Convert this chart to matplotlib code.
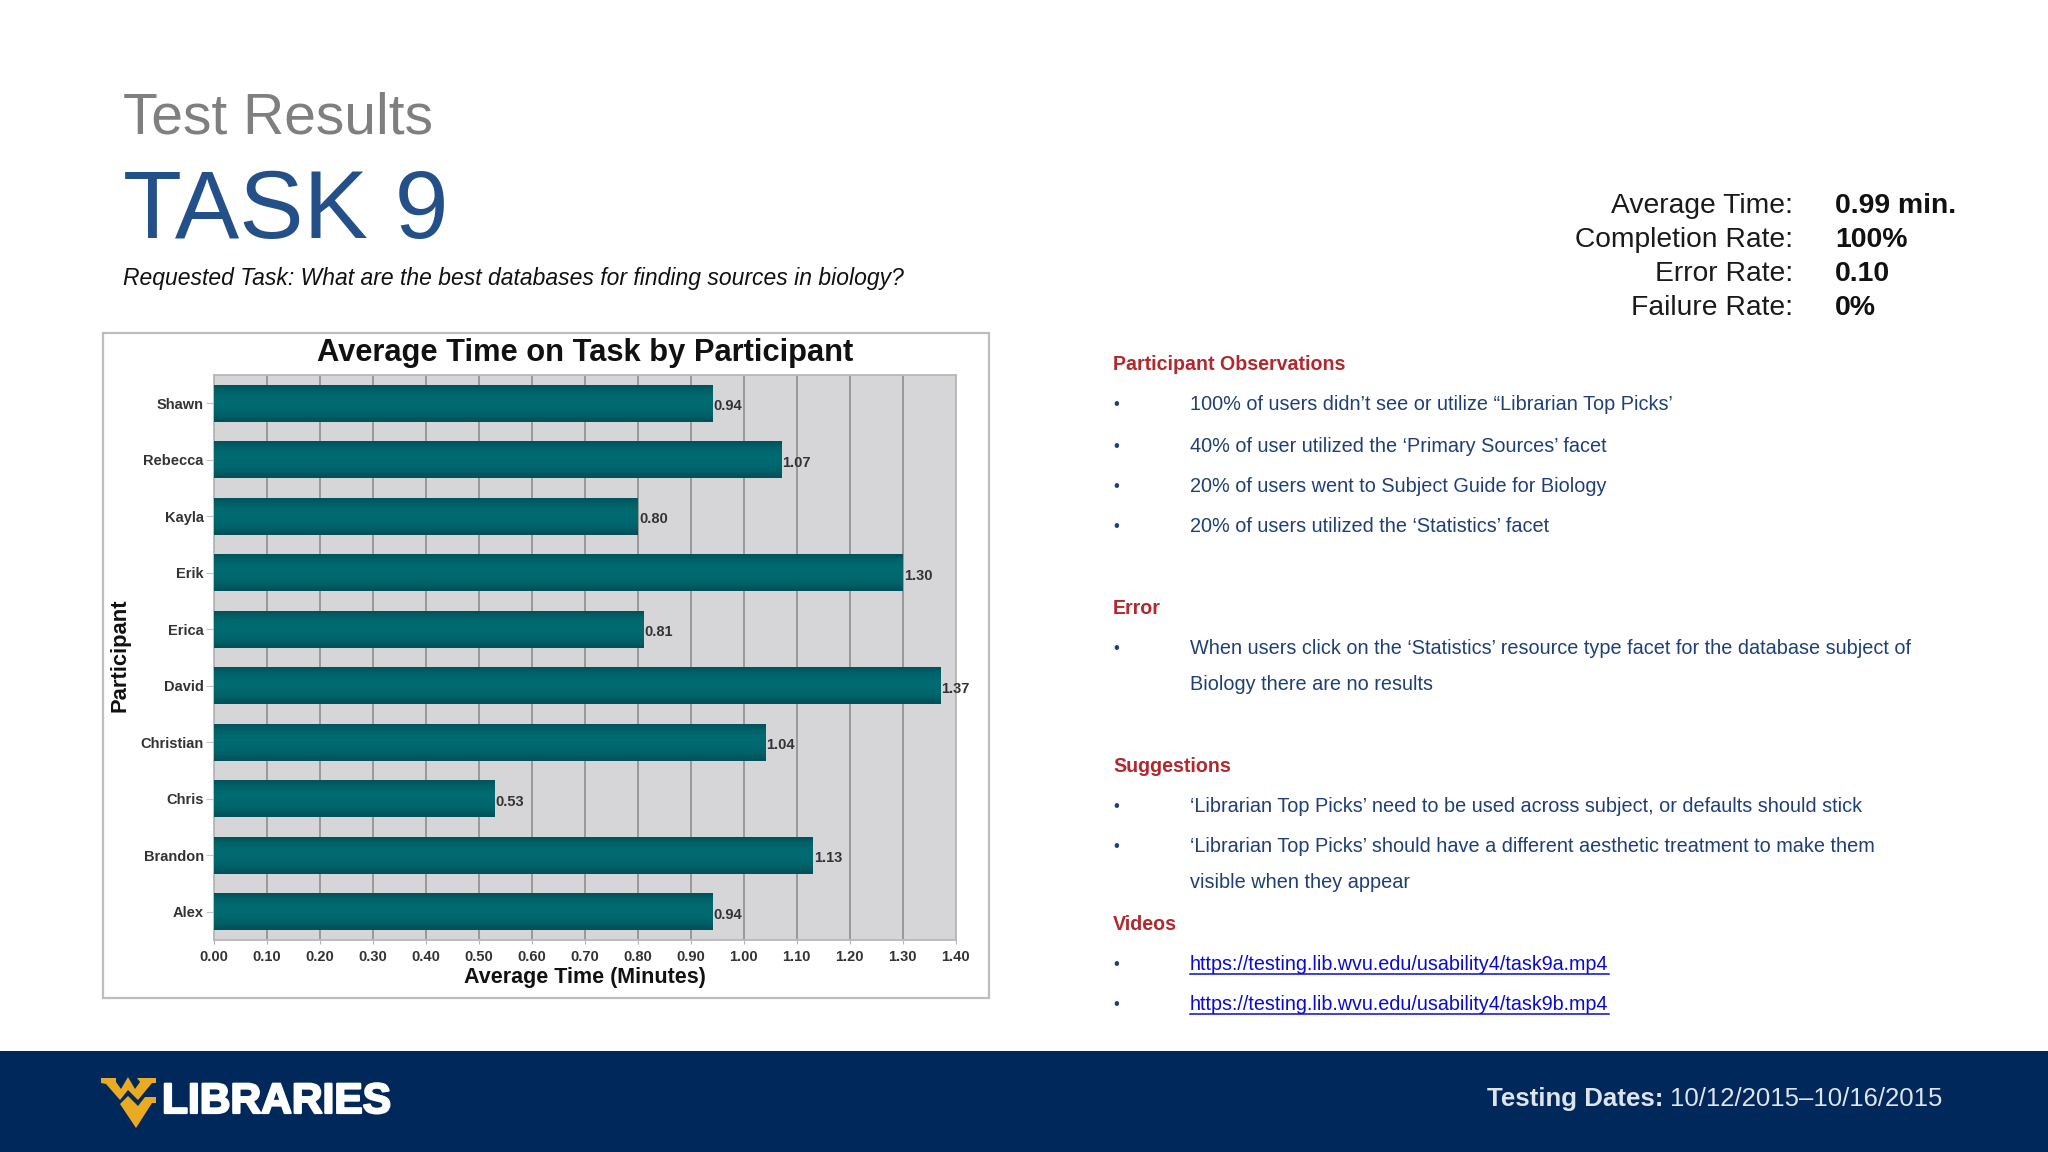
import matplotlib
matplotlib.use('Agg')
import matplotlib.pyplot as plt
import matplotlib.patheffects as pe
from matplotlib.lines import Line2D
from matplotlib.patches import Polygon, Rectangle
import numpy as np

W, H = 2048, 1152

names = ['Shawn', 'Rebecca', 'Kayla', 'Erik', 'Erica', 'David', 'Christian', 'Chris', 'Brandon', 'Alex']
times = [0.94, 1.07, 0.80, 1.30, 0.81, 1.37, 1.04, 0.53, 1.13, 0.94]
x_ticks = [0.0, 0.1, 0.2, 0.3, 0.4, 0.5, 0.6, 0.7, 0.8, 0.9, 1.0, 1.1, 1.2, 1.3, 1.4]

stat_labels = ['Average Time:', 'Completion Rate:', 'Error Rate:', 'Failure Rate:']
stat_values = ['0.99 min.', '100%', '0.10', '0%']

# kind, text, y centre in pixels
notes = [
    ('head', 'Participant Observations', 365),
    ('item', '100% of users didn\u2019t see or utilize \u201cLibrarian Top Picks\u2019', 405),
    ('item', '40% of user utilized the \u2018Primary Sources\u2019 facet', 446),
    ('item', '20% of users went to Subject Guide for Biology', 487),
    ('item', '20% of users utilized the \u2018Statistics\u2019 facet', 527),
    ('head', 'Error', 609),
    ('item', 'When users click on the \u2018Statistics\u2019 resource type facet for the database subject of', 649),
    ('more', 'Biology there are no results', 685),
    ('head', 'Suggestions', 767),
    ('item', '\u2018Librarian Top Picks\u2019 need to be used across subject, or defaults should stick', 807),
    ('item', '\u2018Librarian Top Picks\u2019 should have a different aesthetic treatment to make them', 847),
    ('more', 'visible when they appear', 883),
    ('head', 'Videos', 924),
    ('link', 'https://testing.lib.wvu.edu/usability4/task9a.mp4', 965),
    ('link', 'https://testing.lib.wvu.edu/usability4/task9b.mp4', 1005),
]

plt.rcParams['font.family'] = ['Liberation Sans', 'DejaVu Sans']

fig = plt.figure(figsize=(W / 100, H / 100), dpi=100, facecolor='white')


# pixel coords from top left, like the screenshot
def put(x, y, s, **kw):
    kw.setdefault('va', 'center')
    return fig.text(x / W, 1 - y / H, s, **kw)


def box(x0, y0, x1, y1):
    return [x0 / W, 1 - y1 / H, (x1 - x0) / W, (y1 - y0) / H]


# header
put(123, 118, 'Test Results', fontsize=41, color='#7f7f7f')
put(123, 213, 'TASK 9', fontsize=69.5, color='#24508a')
put(123, 278, 'Requested Task: What are the best databases for finding sources in biology?',
    fontsize=16.5, style='italic', color='#111111')

# stats top right
for i in range(4):
    y = 206 + i * 34
    put(1793, y, stat_labels[i], fontsize=20.3, ha='right', color='#1a1a1a')
    put(1835, y, stat_values[i], fontsize=20.4, fontweight='bold', color='#111111')

# chart frame, kept under the axes
fig.add_artist(Rectangle((103 / W, 1 - 998 / H), 886 / W, 665 / H, transform=fig.transFigure,
                         facecolor='white', edgecolor='#bdbdbd', linewidth=1.6, zorder=-1))

ax = fig.add_axes(box(213.5, 375, 955.5, 940), facecolor='#d6d6d8')
y_pos = np.arange(len(names))
bars = ax.barh(y_pos, times, height=0.66, color='#00636a', zorder=3)

# bars have a soft vertical shading, dark only near the edges
shade = np.array([0.05, 0.6, 0.85, 1.0, 1.0, 0.92, 0.8, 0.55, 0.0]).reshape(-1, 1)
cmap = matplotlib.colors.LinearSegmentedColormap.from_list('teal', ['#00525a', '#006a70'])
for bar in bars:
    im = ax.imshow(shade, cmap=cmap, aspect='auto', zorder=3.5, interpolation='bilinear',
                   extent=(bar.get_x(), bar.get_x() + bar.get_width(),
                           bar.get_y() + bar.get_height(), bar.get_y()))
    im.set_clip_path(bar)

for i, v in enumerate(times):
    ax.annotate('%.2f' % v, (v, i), xytext=(1, -2), textcoords='offset points', va='center',
                fontsize=10.5, fontweight='bold', color='#333333', zorder=5)

ax.set_xlim(0, 1.4)
ax.set_ylim(9.5, -0.5)
ax.set_xticks(x_ticks)
ax.set_xticklabels(['%.2f' % t for t in x_ticks], fontsize=10.5, fontweight='bold', color='#333333')
ax.set_yticks(y_pos)
ax.set_yticklabels(names, fontsize=10.5, fontweight='bold', color='#333333')
ax.tick_params(axis='x', length=3, color='#b5b5b5', pad=4)
ax.tick_params(axis='y', length=6, color='#c4c4c4', pad=1)
ax.grid(axis='x', color='#8f8f8f', linewidth=1.2, zorder=1)
ax.set_axisbelow(True)
for sp in ax.spines.values():
    sp.set_color('#b8b8b8')
    sp.set_linewidth(1.3)

put(585, 353, 'Average Time on Task by Participant', fontsize=22.2, fontweight='bold', ha='center', color='#111111')
put(585, 977, 'Average Time (Minutes)', fontsize=15.5, fontweight='bold', ha='center', color='#111111')
put(120, 655, 'Participant', fontsize=15.8, fontweight='bold', ha='center', rotation=90, color='#111111')

# observations column
renderer = fig.canvas.get_renderer()
for kind, txt, y in notes:
    if kind == 'head':
        put(1113, y, txt, fontsize=14.1, fontweight='bold', color='#b3282d')
        continue
    col = '#1f3f77'
    if kind != 'more':
        put(1113, y, '\u2022', fontsize=12, color=col)
    if kind == 'link':
        t = put(1190, y, txt, fontsize=14.2, color='#0b0bd0')
        ext = t.get_window_extent(renderer)
        fig.add_artist(Line2D([ext.x0 / W, ext.x1 / W], [1 - (y + 9) / H] * 2,
                              transform=fig.transFigure, color='#0b0bd0', linewidth=1.1))
    else:
        put(1190, y, txt, fontsize=14.3, color=col)

# footer band
fig.add_artist(Rectangle((0, 0), 1, 101 / H, transform=fig.transFigure, facecolor='#00285a', edgecolor='none'))

wv_top = [(101, 1078), (116, 1078), (116, 1082), (121, 1089), (128, 1077), (135, 1089), (140, 1082),
          (137, 1078), (156, 1078), (156, 1083), (152, 1083), (138, 1100), (128, 1090), (120, 1100),
          (106, 1084), (101, 1083)]
wv_low = [(120, 1104), (128, 1096), (138, 1106), (145, 1097), (156, 1097), (156, 1103), (152, 1103),
          (136, 1128)]
for pts in (wv_top, wv_low):
    fig.add_artist(Polygon([(x / W, 1 - y / H) for x, y in pts], closed=True, transform=fig.transFigure,
                           facecolor='#eaaa22', edgecolor='none'))

logo = put(162, 1102, 'LIBRARIES', fontsize=30.6, fontweight='bold', color='white')
logo.set_path_effects([pe.withStroke(linewidth=1.6, foreground='white')])

t1 = put(1487, 1099, 'Testing Dates:', fontsize=18.6, fontweight='bold', color='#dfe3ea')
ext = t1.get_window_extent(renderer)
put(ext.x1 + 7, 1099, '10/12/2015\u201310/16/2015', fontsize=18.5, color='#dfe3ea')

fig.savefig('out.png', dpi=100)
